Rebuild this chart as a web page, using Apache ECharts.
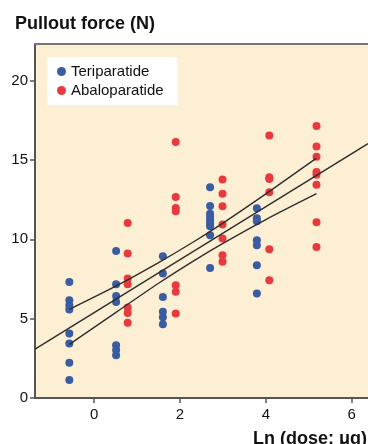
<!DOCTYPE html>
<html>
<head>
<meta charset="utf-8">
<script src="https://cdn.jsdelivr.net/npm/echarts@6/dist/echarts.min.js"></script>
<style>
  html, body { margin: 0; padding: 0; background: #fff; }
  #chart { width: 368px; height: 444px; }
</style>
</head>
<body>
<div id="chart"></div>
<script>
// dose groups (ln dose) and pullout force readings per group
const teriDose = [-0.58, 0.51, 1.60, 2.70, 3.79];
const teriForce = [
  [7.31, 6.16, 5.85, 5.58, 4.07, 3.44, 2.22, 1.13],
  [9.26, 7.17, 6.42, 6.04, 3.33, 3.02, 2.70],
  [8.93, 7.84, 6.37, 5.44, 5.09, 4.65],
  [13.27, 12.10, 11.61, 11.40, 11.19, 10.99, 10.82, 10.25, 8.19],
  [11.95, 11.32, 11.13, 9.94, 9.62, 8.36, 6.58]
];
const abaloDose = [0.78, 1.90, 2.99, 4.08, 5.18];
const abaloForce = [
  [11.03, 9.10, 7.53, 7.17, 5.70, 5.36, 4.74],
  [16.12, 12.66, 11.97, 11.76, 7.11, 6.69, 5.33],
  [13.77, 12.87, 12.08, 10.93, 10.04, 8.99, 8.58],
  [16.54, 13.90, 13.80, 12.96, 9.37, 7.42],
  [17.13, 15.85, 15.20, 14.23, 14.06, 13.43, 11.07, 9.52]
];

// regression line and its confidence band
const fitX = [-1.38, 6.38];
const fitY = [3.08, 16.02];
const bandX = [-0.58, 0.5, 1.5, 2.3, 3.0, 4.0, 5.18];
const bandUpper = [5.58, 7.04, 8.53, 9.81, 11.02, 12.86, 15.11];
const bandLower = [3.38, 5.38, 7.23, 8.61, 9.74, 11.24, 12.87];

const xTicks = [0, 2, 4, 6];
const yTicks = [0, 5, 10, 15, 20];

const font = '"Liberation Sans", Arial, sans-serif';

const toPoints = (doses, groups) => {
  const pts = [];
  doses.forEach((d, i) => groups[i].forEach(v => pts.push([d, v])));
  return pts;
};
const zip = (xs, ys) => xs.map((x, i) => [x, ys[i]]);

const lineStyle = { color: '#2e2e2e', width: 1.4 };

const chart = echarts.init(document.getElementById('chart'));
chart.setOption({
  animation: false,
  backgroundColor: '#fff',
  textStyle: { fontFamily: font },
  title: {
    text: 'Pullout force (N)',
    left: 10,
    top: 10,
    textStyle: { fontFamily: font, fontSize: 18, fontWeight: 'bold', color: '#111' }
  },
  graphic: [{
    type: 'text',
    left: 253,
    top: 430,
    style: { text: 'Ln (dose; μg)', font: 'bold 18px ' + font, fill: '#111' }
  }],
  legend: {
    data: ['Teriparatide', 'Abaloparatide'],
    orient: 'vertical',
    left: 47,
    top: 57,
    backgroundColor: '#fff',
    padding: [7, 14, 7, 10],
    itemGap: 4,
    itemWidth: 9,
    itemHeight: 9,
    icon: 'circle',
    textStyle: { fontFamily: font, fontSize: 15, color: '#111' }
  },
  grid: {
    left: 35, right: 0, top: 44, bottom: 46,
    show: true,
    backgroundColor: '#fdefd3',
    borderWidth: 0
  },
  xAxis: [{
    type: 'value',
    min: -1.38,
    max: 6.38,
    splitLine: { show: false },
    axisLine: { onZero: false, lineStyle: { color: '#555', width: 2 } },
    axisTick: { customValues: xTicks, length: 5, lineStyle: { color: '#555', width: 1.5 } },
    axisLabel: { customValues: xTicks, margin: 9, fontSize: 15, color: '#111', fontFamily: font }
  }, {
    type: 'value',
    position: 'top',
    min: -1.38,
    max: 6.38,
    splitLine: { show: false },
    axisLine: { show: true, onZero: false, lineStyle: { color: '#777', width: 2 } },
    axisTick: { show: false },
    axisLabel: { show: false }
  }],
  yAxis: {
    type: 'value',
    min: 0,
    max: 22.3,
    splitLine: { show: false },
    axisLine: { show: true, onZero: false, lineStyle: { color: '#555', width: 2 } },
    axisTick: { show: true, customValues: yTicks, length: 5, lineStyle: { color: '#555', width: 1.5 } },
    axisLabel: { customValues: yTicks, margin: 7, fontSize: 15, color: '#111', fontFamily: font }
  },
  series: [
    {
      name: 'Teriparatide',
      type: 'scatter',
      symbolSize: 8,
      itemStyle: { color: '#3a5ca3', opacity: 1 },
      data: toPoints(teriDose, teriForce),
      z: 3
    },
    {
      name: 'Abaloparatide',
      type: 'scatter',
      symbolSize: 8,
      itemStyle: { color: '#e83a3e', opacity: 1 },
      data: toPoints(abaloDose, abaloForce),
      z: 3
    },
    {
      type: 'line',
      data: zip(fitX, fitY),
      showSymbol: false,
      lineStyle: lineStyle,
      z: 4
    },
    {
      type: 'line',
      data: zip(bandX, bandUpper),
      smooth: 0.3,
      showSymbol: false,
      lineStyle: lineStyle,
      z: 4
    },
    {
      type: 'line',
      data: zip(bandX, bandLower),
      smooth: 0.3,
      showSymbol: false,
      lineStyle: lineStyle,
      z: 4
    }
  ]
});
</script>
</body>
</html>
